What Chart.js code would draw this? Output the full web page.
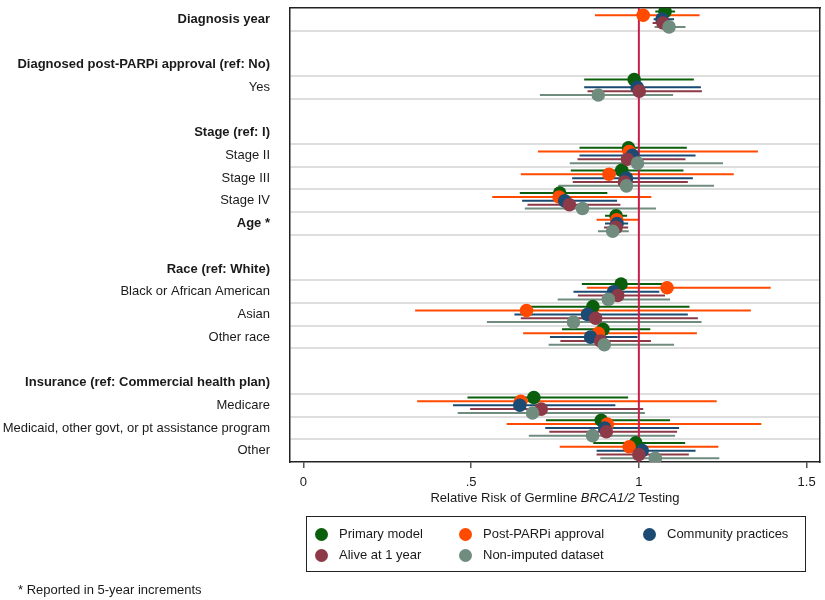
<!DOCTYPE html>
<html>
<head>
<meta charset="utf-8">
<script src="https://cdn.jsdelivr.net/npm/chart.js@4.4.0/dist/chart.umd.min.js"></script>
<style>
  body { margin: 0; background: #fff; font-family: "Liberation Sans", Arial, sans-serif; color: #1a1a1a; }
  #wrap { position: relative; width: 825px; height: 600px; }
  #chart { position: absolute; left: 0; top: 0; }
  .xtitle { position: absolute; left: 355px; width: 400px; top: 490px; text-align: center; font-size: 13px; }
  .legend { position: absolute; left: 306px; top: 516px; width: 500px; height: 56px; border: 1px solid #222; box-sizing: border-box; }
  .item { position: absolute; font-size: 13px; line-height: 16px; white-space: nowrap; }
  .dot { position: absolute; width: 13px; height: 13px; border-radius: 50%; }
  .note { position: absolute; left: 18px; top: 582px; font-size: 13px; }
</style>
</head>
<body>
<div id="wrap">
  <canvas id="chart" width="825" height="600"></canvas>
  <div class="xtitle">Relative Risk of Germline <i>BRCA1/2</i> Testing</div>
  <div class="legend" id="legend"></div>
  <div class="note">* Reported in 5-year increments</div>
</div>
<script>
// rows top to bottom
const categories = [
    "Diagnosis year", "",
    "Diagnosed post-PARPi approval (ref: No)", "Yes", "",
    "Stage (ref: I)", "Stage II", "Stage III", "Stage IV", "Age *", "",
    "Race (ref: White)", "Black or African American", "Asian", "Other race", "",
    "Insurance (ref: Commercial health plan)", "Medicare",
    "Medicaid, other govt, or pt assistance program", "Other"
];
const boldRows = [0, 2, 5, 9, 11, 16];

const seriesNames = ["Primary model", "Post-PARPi approval", "Community practices", "Alive at 1 year", "Non-imputed dataset"];
const seriesColors = ["#0b5e0b", "#ff4a00", "#1b4a73", "#8c3a47", "#6f8c7f"];

const primaryEst = [1.078, null, null, 0.986, null, null, 0.969, 0.949, 0.764, 0.932, null, null, 0.947, 0.863, 0.893, null, null, 0.687, 0.888, 0.991];
const primaryLo  = [1.049, null, null, 0.837, null, null, 0.823, 0.797, 0.645, 0.899, null, null, 0.830, 0.662, 0.771, null, null, 0.489, 0.723, 0.864];
const primaryHi  = [1.108, null, null, 1.164, null, null, 1.143, 1.133, 0.906, 0.965, null, null, 1.069, 1.151, 1.034, null, null, 0.968, 1.093, 1.138];

const postEst = [1.013, null, null, null, null, null, 0.971, 0.911, 0.762, 0.934, null, null, 1.084, 0.665, 0.879, null, null, 0.648, 0.906, 0.971];
const postLo  = [0.869, null, null, null, null, null, 0.699, 0.648, 0.563, 0.874, null, null, 0.845, 0.333, 0.655, null, null, 0.339, 0.606, 0.764];
const postHi  = [1.181, null, null, null, null, null, 1.355, 1.283, 1.037, 1.001, null, null, 1.393, 1.334, 1.173, null, null, 1.232, 1.365, 1.237];

const commEst = [1.069, null, null, 0.995, null, null, 0.981, 0.963, 0.779, 0.935, null, null, 0.925, 0.847, 0.856, null, null, 0.645, 0.898, 1.010];
const commLo  = [1.044, null, null, 0.837, null, null, 0.823, 0.801, 0.652, 0.899, null, null, 0.805, 0.629, 0.735, null, null, 0.446, 0.721, 0.874];
const commHi  = [1.105, null, null, 1.185, null, null, 1.169, 1.161, 0.935, 0.968, null, null, 1.061, 1.146, 0.996, null, null, 0.930, 1.120, 1.169];

const aliveEst = [1.072, null, null, 1.001, null, null, 0.966, 0.957, 0.793, 0.932, null, null, 0.937, 0.871, 0.886, null, null, 0.709, 0.903, 1.000];
const aliveLo  = [1.041, null, null, 0.847, null, null, 0.817, 0.803, 0.668, 0.896, null, null, 0.818, 0.648, 0.766, null, null, 0.497, 0.733, 0.874];
const aliveHi  = [1.095, null, null, 1.188, null, null, 1.139, 1.146, 0.945, 0.968, null, null, 1.078, 1.176, 1.036, null, null, 1.013, 1.114, 1.149];

const nonimpEst = [1.090, null, null, 0.879, null, null, 0.996, 0.963, 0.832, 0.922, null, null, 0.909, 0.805, 0.897, null, null, 0.683, 0.862, 1.049];
const nonimpLo  = [1.047, null, null, 0.705, null, null, 0.794, 0.760, 0.660, 0.878, null, null, 0.758, 0.547, 0.731, null, null, 0.460, 0.672, 0.885];
const nonimpHi  = [1.139, null, null, 1.102, null, null, 1.251, 1.224, 1.051, 0.970, null, null, 1.093, 1.187, 1.105, null, null, 1.018, 1.108, 1.240];

const xTicks = [0, 0.5, 1, 1.5];
const refValue = 1;

const estimates = [primaryEst, postEst, commEst, aliveEst, nonimpEst];
const lowers = [primaryLo, postLo, commLo, aliveLo, nonimpLo];
const uppers = [primaryHi, postHi, commHi, aliveHi, nonimpHi];

// vertical offset of each model inside a row
const offsets = [-0.34, -0.17, 0, 0.17, 0.34];
const yMin = -0.5, yMax = categories.length - 0.5;
const font = { family: '"Liberation Sans", Arial, sans-serif', size: 13 };

const hasData = categories.map((_, i) => estimates.some(s => s[i] !== null));

const datasets = [];
estimates.forEach((est, k) => {
    const pts = [], ci = [];
    est.forEach((e, i) => {
        if (e === null) return;
        pts.push({ x: e, y: i + offsets[k] });
        ci.push({ x: lowers[k][i], y: i + offsets[k] }, { x: uppers[k][i], y: i + offsets[k] }, { x: null, y: null });
    });
    datasets.push({
        label: seriesNames[k] + " CI", data: ci, showLine: true, spanGaps: false,
        borderColor: seriesColors[k], borderWidth: 2, pointRadius: 0, order: 20 - k,
        xAxisID: 'x', yAxisID: 'y'
    });
    datasets.push({
        label: seriesNames[k], data: pts, showLine: false,
        backgroundColor: seriesColors[k], borderWidth: 0, pointRadius: 6.8, pointHoverRadius: 6.8,
        order: 4 - k, xAxisID: 'x', yAxisID: 'y'
    });
});
datasets.push({
    label: "ref", data: [{ x: refValue, y: yMin }, { x: refValue, y: yMax }], showLine: true,
    borderColor: "#c81e4b", borderWidth: 2, pointRadius: 0, order: 10, xAxisID: 'x', yAxisID: 'y'
});

const xr = { min: -0.04, max: 1.54 };
new Chart(document.getElementById('chart'), {
    type: 'scatter',
    data: { datasets: datasets },
    options: {
        responsive: false,
        animation: false,
        layout: { padding: 0, autoPadding: false },
        plugins: { legend: { display: false }, tooltip: { enabled: false } },
        scales: {
            x: {
                type: 'linear', position: 'bottom', min: xr.min, max: xr.max,
                afterBuildTicks: s => { s.ticks = xTicks.map(v => ({ value: v })); },
                ticks: {
                    autoSkip: false, maxRotation: 0, padding: 7, font: font, color: '#1a1a1a',
                    callback: v => v === 0 ? '0' : String(v).replace(/^0\./, '.')
                },
                grid: { drawOnChartArea: false, tickLength: 6, color: '#555', lineWidth: 1.5 },
                border: { color: '#222', width: 1.5 },
                afterFit: s => { s.height = 138; }
            },
            x2: {
                type: 'linear', position: 'top', min: xr.min, max: xr.max,
                ticks: { display: false }, grid: { display: false },
                border: { color: '#222', width: 1.5 },
                afterFit: s => { s.height = 6.5; }
            },
            y: {
                type: 'linear', position: 'left', reverse: true, min: yMin, max: yMax,
                afterBuildTicks: s => {
                    const t = [];
                    for (let v = yMin; v <= yMax; v += 0.5) t.push({ value: v });
                    s.ticks = t;
                },
                ticks: {
                    autoSkip: false, padding: 0, color: '#1a1a1a',
                    callback: v => Number.isInteger(v) ? categories[v] : '',
                    font: ctx => ({
                        family: font.family, size: 13,
                        weight: boldRows.includes(ctx.tick && ctx.tick.value) ? 'bold' : 'normal'
                    })
                },
                grid: {
                    drawTicks: true, tickLength: 20, tickColor: 'rgba(0,0,0,0)', lineWidth: 2,
                    color: ctx => {
                        const v = ctx.tick ? ctx.tick.value : 0;
                        if (Number.isInteger(v) || v <= yMin || v >= yMax) return 'rgba(0,0,0,0)';
                        const a = Math.floor(v), b = Math.ceil(v);
                        return (hasData[a] || hasData[b]) ? '#dedede' : 'rgba(0,0,0,0)';
                    }
                },
                border: { color: '#222', width: 1.5 },
                afterFit: s => { s.width = 290; }
            },
            y2: {
                type: 'linear', position: 'right', reverse: true, min: yMin, max: yMax,
                ticks: { display: false }, grid: { display: false },
                border: { color: '#222', width: 1.5 },
                afterFit: s => { s.width = 5; }
            }
        }
    }
});

// legend in three columns, built from the series arrays
const legendPos = [[14, 17], [158, 17], [342, 17], [14, 38], [158, 38]];
const legend = document.getElementById('legend');
seriesNames.forEach((name, k) => {
    const [cx, cy] = legendPos[k];
    const dot = document.createElement('div');
    dot.className = 'dot';
    dot.style.left = (cx - 6.5) + 'px';
    dot.style.top = (cy - 6.5) + 'px';
    dot.style.background = seriesColors[k];
    legend.appendChild(dot);
    const t = document.createElement('div');
    t.className = 'item';
    t.style.left = (cx + 18) + 'px';
    t.style.top = (cy - 8) + 'px';
    t.textContent = name;
    legend.appendChild(t);
});
</script>
</body>
</html>
